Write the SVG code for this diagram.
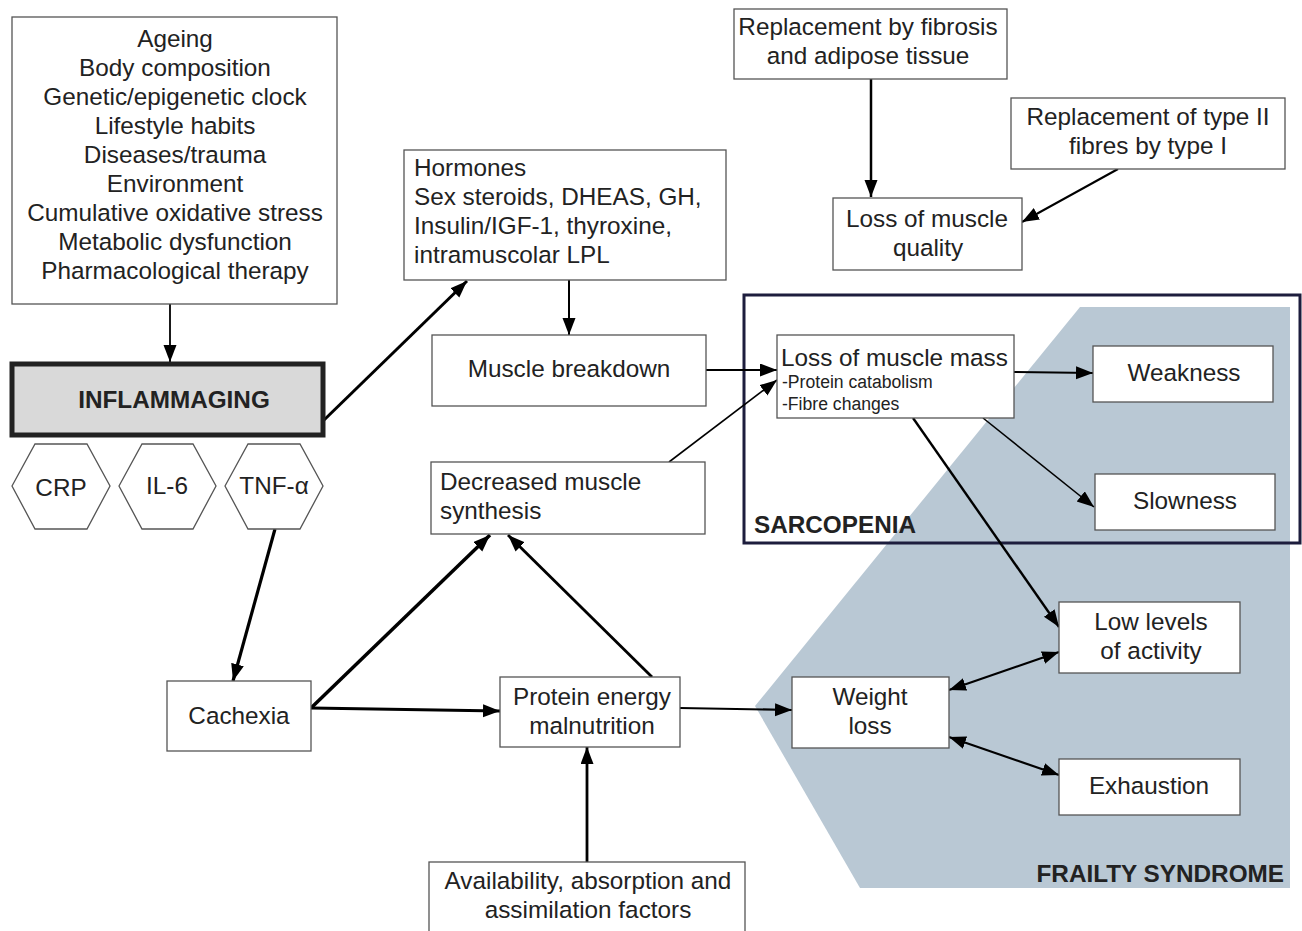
<svg xmlns="http://www.w3.org/2000/svg" width="1302" height="931" viewBox="0 0 1302 931">
<defs>
<marker id="ah" markerUnits="userSpaceOnUse" markerWidth="18" markerHeight="14" refX="17" refY="6.5" orient="auto-start-reverse">
<path d="M0,0 L17,6.5 L0,13 z" fill="#000"/>
</marker>
<style>
.box{fill:#fff;stroke:#555;stroke-width:1.3}
.t{font-family:"Liberation Sans",Arial,sans-serif;font-size:24.3px;fill:#222}
.c{text-anchor:middle}
.s{font-size:17.6px}
.b{font-weight:bold}
.ln{stroke:#000;fill:none}
</style>
</defs>
<rect width="1302" height="931" fill="#fff"/>
<g id="frailty-region">
<polygon points="1080,307 1290,307 1290,888 860,888 755,706" fill="#b9c8d4"/>
<text class="t b" x="1284" y="882" text-anchor="end">FRAILTY SYNDROME</text>
</g>
<g id="sarcopenia-frame">
<rect x="744" y="295" width="556" height="248" fill="none" stroke="#1d1d3d" stroke-width="3"/>
<text class="t b" x="754" y="533">SARCOPENIA</text>
</g>
<g id="connectors">
<line class="ln" x1="170" y1="304" x2="170" y2="362" stroke-width="1.8" marker-end="url(#ah)"/>
<line class="ln" x1="323" y1="421" x2="467" y2="281" stroke-width="3" marker-end="url(#ah)"/>
<line class="ln" x1="569" y1="280" x2="569" y2="335" stroke-width="2" marker-end="url(#ah)"/>
<line class="ln" x1="706" y1="370" x2="777" y2="370" stroke-width="2.2" marker-end="url(#ah)"/>
<line class="ln" x1="669" y1="462" x2="777" y2="380" stroke-width="1.6" marker-end="url(#ah)"/>
<line class="ln" x1="871" y1="79" x2="871" y2="197" stroke-width="2.5" marker-end="url(#ah)"/>
<line class="ln" x1="1118" y1="169" x2="1022" y2="222" stroke-width="2" marker-end="url(#ah)"/>
<line class="ln" x1="1014" y1="372" x2="1093" y2="373" stroke-width="2" marker-end="url(#ah)"/>
<line class="ln" x1="983" y1="418" x2="1094" y2="507" stroke-width="1.6" marker-end="url(#ah)"/>
<line class="ln" x1="913" y1="418" x2="1059" y2="627" stroke-width="2.4" marker-end="url(#ah)"/>
<line class="ln" x1="949" y1="690" x2="1059" y2="652" stroke-width="2.2" marker-start="url(#ah)" marker-end="url(#ah)"/>
<line class="ln" x1="949" y1="737" x2="1059" y2="775" stroke-width="2.2" marker-start="url(#ah)" marker-end="url(#ah)"/>
<line class="ln" x1="680" y1="708" x2="792" y2="710" stroke-width="2.2" marker-end="url(#ah)"/>
<line class="ln" x1="275" y1="529" x2="233" y2="681" stroke-width="3.2" marker-end="url(#ah)"/>
<line class="ln" x1="311" y1="708" x2="490" y2="535" stroke-width="3.5" marker-end="url(#ah)"/>
<line class="ln" x1="311" y1="708" x2="500" y2="711" stroke-width="3" marker-end="url(#ah)"/>
<line class="ln" x1="652" y1="677" x2="508" y2="535" stroke-width="2.8" marker-end="url(#ah)"/>
<line class="ln" x1="587" y1="862" x2="587" y2="747" stroke-width="2.8" marker-end="url(#ah)"/>
</g>
<g id="factors">
<rect class="box" x="12" y="17" width="325" height="287"/>
<text class="t c" x="175" y="47">Ageing</text>
<text class="t c" x="175" y="76">Body composition</text>
<text class="t c" x="175" y="105">Genetic/epigenetic clock</text>
<text class="t c" x="175" y="134">Lifestyle habits</text>
<text class="t c" x="175" y="163">Diseases/trauma</text>
<text class="t c" x="175" y="192">Environment</text>
<text class="t c" x="175" y="221">Cumulative oxidative stress</text>
<text class="t c" x="175" y="250">Metabolic dysfunction</text>
<text class="t c" x="175" y="279">Pharmacological therapy</text>
</g>
<g id="inflammaging">
<rect x="12" y="364" width="311" height="71" fill="#d9d9d9" stroke="#222" stroke-width="5"/>
<text class="t c b" x="174" y="408">INFLAMMAGING</text>
</g>
<g id="crp">
<polygon class="box" points="12,486 35,444 87,444 110,486 87,529 35,529"/>
<text class="t c" x="61" y="496">CRP</text>
</g>
<g id="il6">
<polygon class="box" points="119,486 142,444 193,444 216,486 193,529 142,529"/>
<text class="t c" x="167" y="494">IL-6</text>
</g>
<g id="tnf">
<polygon class="box" points="225,486 248,444 300,444 323,486 300,529 248,529"/>
<text class="t c" x="274" y="494">TNF-α</text>
</g>
<g id="hormones">
<rect class="box" x="404" y="150" width="322" height="130"/>
<text class="t" x="414" y="176">Hormones</text>
<text class="t" x="414" y="205">Sex steroids, DHEAS, GH,</text>
<text class="t" x="414" y="234">Insulin/IGF-1, thyroxine,</text>
<text class="t" x="414" y="263">intramuscolar LPL</text>
</g>
<g id="muscle-breakdown">
<rect class="box" x="432" y="335" width="274" height="71"/>
<text class="t c" x="569" y="377">Muscle breakdown</text>
</g>
<g id="decreased-synthesis">
<rect class="box" x="431" y="462" width="274" height="72"/>
<text class="t" x="440" y="490">Decreased muscle</text>
<text class="t" x="440" y="519">synthesis</text>
</g>
<g id="fibrosis">
<rect class="box" x="734" y="9" width="273" height="70"/>
<text class="t c" x="868" y="35">Replacement by fibrosis</text>
<text class="t c" x="868" y="64">and adipose tissue</text>
</g>
<g id="type2">
<rect class="box" x="1011" y="98" width="274" height="71"/>
<text class="t c" x="1148" y="125">Replacement of type II</text>
<text class="t c" x="1148" y="154">fibres by type I</text>
</g>
<g id="muscle-quality">
<rect class="box" x="833" y="198" width="189" height="72"/>
<text class="t c" x="927" y="227">Loss of muscle</text>
<text class="t c" x="928" y="256">quality</text>
</g>
<g id="muscle-mass">
<rect class="box" x="777" y="335" width="237" height="83"/>
<text class="t" x="781" y="366">Loss of muscle mass</text>
<text class="t s" x="782" y="388">-Protein catabolism</text>
<text class="t s" x="782" y="410">-Fibre changes</text>
</g>
<g id="weakness">
<rect class="box" x="1093" y="346" width="180" height="56"/>
<text class="t c" x="1184" y="381">Weakness</text>
</g>
<g id="slowness">
<rect class="box" x="1095" y="474" width="180" height="56"/>
<text class="t c" x="1185" y="509">Slowness</text>
</g>
<g id="low-activity">
<rect class="box" x="1059" y="602" width="181" height="71"/>
<text class="t c" x="1151" y="630">Low levels</text>
<text class="t c" x="1151" y="659">of activity</text>
</g>
<g id="weight-loss">
<rect class="box" x="792" y="677" width="157" height="71"/>
<text class="t c" x="870" y="705">Weight</text>
<text class="t c" x="870" y="734">loss</text>
</g>
<g id="exhaustion">
<rect class="box" x="1059" y="759" width="181" height="56"/>
<text class="t c" x="1149" y="794">Exhaustion</text>
</g>
<g id="cachexia">
<rect class="box" x="167" y="681" width="144" height="70"/>
<text class="t c" x="239" y="724">Cachexia</text>
</g>
<g id="pem">
<rect class="box" x="500" y="677" width="180" height="70"/>
<text class="t c" x="592" y="705">Protein energy</text>
<text class="t c" x="592" y="734">malnutrition</text>
</g>
<g id="availability">
<rect class="box" x="429" y="862" width="316" height="75"/>
<text class="t c" x="588" y="889">Availability, absorption and</text>
<text class="t c" x="588" y="918">assimilation factors</text>
</g>
</svg>
